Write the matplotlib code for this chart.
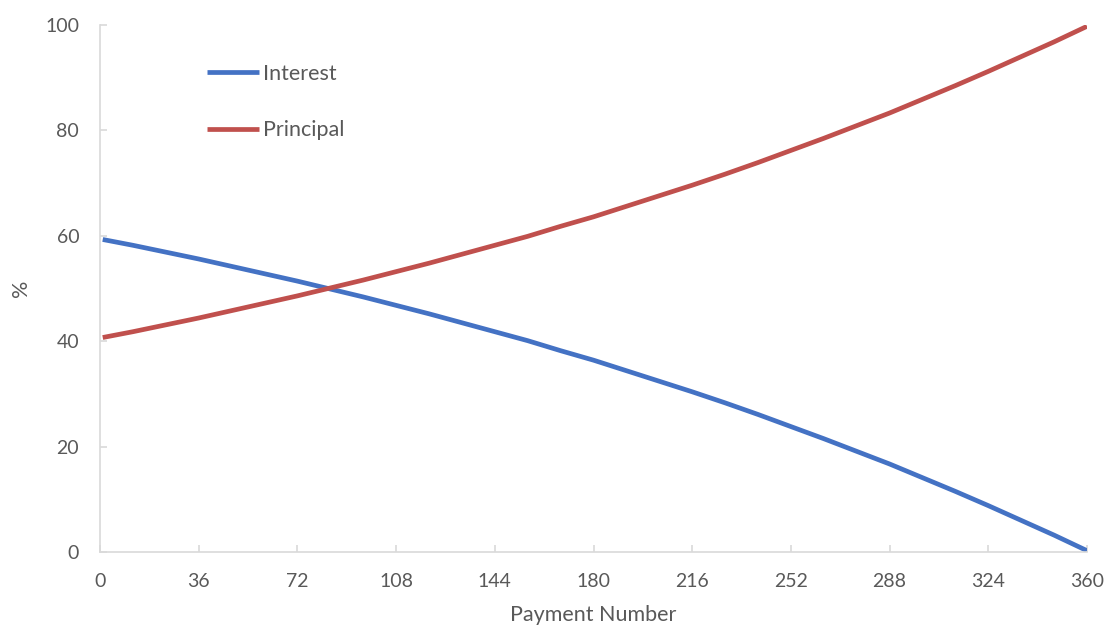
import matplotlib
matplotlib.use("Agg")
from matplotlib import pyplot as plt


# share of each monthly payment (%), 30-year loan
payment = [1, 12, 24, 36, 48, 60, 72, 84, 96, 108, 120, 132, 144, 156, 168, 180,
           192, 204, 216, 228, 240, 252, 264, 276, 288, 300, 312, 324, 336, 348, 360]
principal = [40.7, 41.8, 43.1, 44.4, 45.8, 47.2, 48.6, 50.1, 51.6, 53.2, 54.8,
             56.5, 58.2, 59.9, 61.8, 63.6, 65.6, 67.6, 69.6, 71.7, 73.9, 76.2,
             78.5, 80.9, 83.3, 85.9, 88.5, 91.2, 94.0, 96.8, 99.75]
interest = [59.3, 58.2, 56.9, 55.6, 54.2, 52.8, 51.4, 49.9, 48.4, 46.8, 45.2,
            43.5, 41.8, 40.1, 38.2, 36.4, 34.4, 32.4, 30.4, 28.3, 26.1, 23.8,
            21.5, 19.1, 16.7, 14.1, 11.5, 8.8, 6.0, 3.2, 0.25]
xticks = [0, 36, 72, 108, 144, 180, 216, 252, 288, 324, 360]
yticks = [0, 20, 40, 60, 80, 100]

plt.rcParams['font.family'] = ['Lato', 'DejaVu Sans']
grey = '#595959'
axis_grey = '#d9d9d9'

fig = plt.figure(figsize=(11.09, 6.29), dpi=100)
ax = fig.add_axes([100 / 1109, 77 / 629, 987 / 1109, 527 / 629])

ax.plot(payment, interest, color='#4472C4', lw=3.4, label='Interest', solid_capstyle='butt')
ax.plot(payment, principal, color='#C0504D', lw=3.4, label='Principal', solid_capstyle='butt')

ax.set_xlim(0, 360)
ax.set_ylim(0, 100)
ax.set_xticks(xticks)
ax.set_yticks(yticks)

for side in ['top', 'right']:
    ax.spines[side].set_visible(False)
for side in ['left', 'bottom']:
    ax.spines[side].set_color(axis_grey)
    ax.spines[side].set_linewidth(1.2)
ax.tick_params(axis='both', direction='in', length=5, width=1.2, color=axis_grey,
               labelcolor=grey, labelsize=14)
ax.tick_params(axis='x', pad=15)
ax.tick_params(axis='y', pad=15)

ax.set_xlabel('Payment Number', fontsize=15.5, color=grey, labelpad=11)
ax.set_ylabel('%', fontsize=15.5, color=grey, labelpad=10)

ax.legend(loc='upper left', bbox_to_anchor=(0.089, 0.963), frameon=False,
          fontsize=15.5, labelcolor=grey, handlelength=2.4, handletextpad=0.2,
          labelspacing=1.68)

fig.savefig('out.png', dpi=100)
